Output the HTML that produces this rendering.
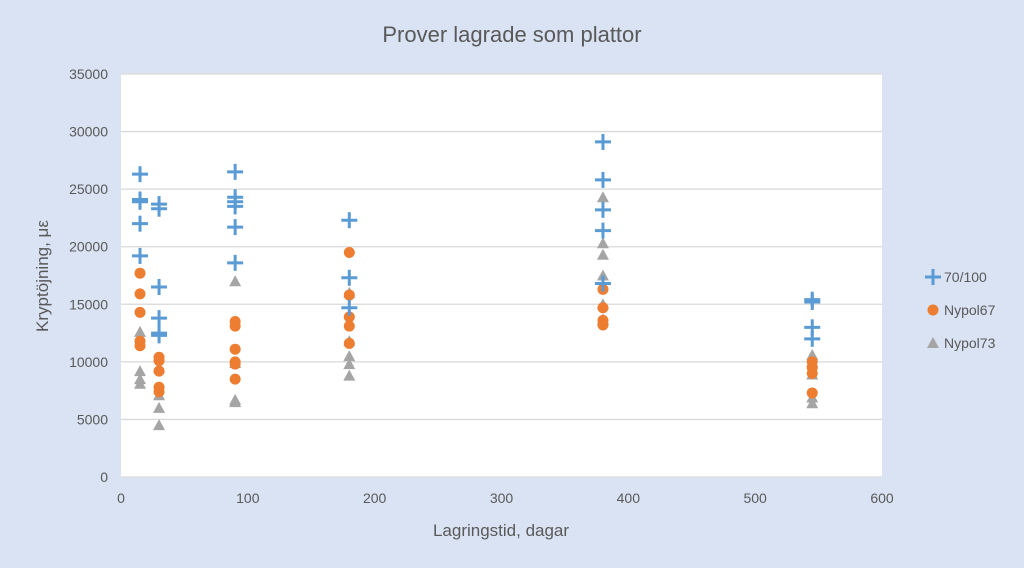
<!DOCTYPE html>
<html><head><meta charset="utf-8"><style>
body{margin:0;background:#dae3f3;}
svg{display:block;font-family:"Liberation Sans",sans-serif;}
</style></head><body>
<svg id="chart" width="1024" height="568">
<rect x="0" y="0" width="1024" height="568" fill="#dae3f3"/>
<rect x="121" y="74" width="761" height="403" fill="#ffffff"/>
<text x="512" y="42" text-anchor="middle" font-size="22" fill="#595959">Prover lagrade som plattor</text>
<text x="501" y="536" text-anchor="middle" font-size="17" fill="#595959">Lagringstid, dagar</text>
<text transform="translate(48,276) rotate(-90)" text-anchor="middle" font-size="17" fill="#595959">Kryptöjning, με</text>
<g id="grid"></g><g id="ticks"></g><g id="marks"></g><g id="legend"></g>
</svg>
<script>
const xTicks=[0,100,200,300,400,500,600];
const yTicks=[0,5000,10000,15000,20000,25000,30000,35000];
const seriesNames=["70/100","Nypol67","Nypol73"];
const s70x=[15,15,15,15,15,30,30,30,30,30,30,90,90,90,90,90,90,180,180,180,380,380,380,380,380,545,545,545,545];
const s70y=[26300,24100,23900,22000,19200,23700,23300,16500,13800,12500,12300,26500,24300,23900,23500,21700,18600,22300,17300,14700,29100,25800,23200,21400,16800,15400,15200,13000,12000];
const s67x=[15,15,15,15,15,30,30,30,30,30,90,90,90,90,90,90,180,180,180,180,180,380,380,380,380,545,545,545,545];
const s67y=[17700,15900,14300,11800,11400,10400,10100,9200,7800,7400,13500,13100,11100,10000,9800,8500,19500,15800,13900,13100,11600,16300,14700,13600,13200,10000,9500,9000,7300];
const s73x=[15,15,15,15,30,30,30,30,90,90,90,90,180,180,180,180,180,380,380,380,380,380,380,545,545,545,545,545];
const s73y=[12600,9200,8500,8100,9500,7100,6000,4500,17000,9900,6700,6500,16000,11800,10500,9800,8800,24300,20300,19300,17500,15000,13700,10600,10000,8900,6900,6400];
const NS="http://www.w3.org/2000/svg";
const X=v=>121+v/600*761, Y=v=>477-v/35000*403;
function mk(t,a,p){const e=document.createElementNS(NS,t);for(const k in a)e.setAttribute(k,a[k]);p.appendChild(e);return e;}
const grid=document.getElementById('grid'),ticks=document.getElementById('ticks'),marks=document.getElementById('marks'),leg=document.getElementById('legend');
yTicks.forEach(v=>{
 const l=mk('line',{x1:121,x2:882,y1:Y(v),y2:Y(v),stroke:'#d9d9d9','stroke-width':1.3},grid);
 
 
 const t=mk('text',{x:108,y:Y(v)+5,'text-anchor':'end','font-size':14,fill:'#595959'},ticks);t.textContent=v;
 
 
});
xTicks.forEach(v=>{
 const t=mk('text',{x:X(v),y:503,'text-anchor':'middle','font-size':14,fill:'#595959'},ticks);t.textContent=v;
 
 
});
function plus(x,y,p){const g=mk('g',{stroke:'#5b9bd5','stroke-width':3},p);mk('line',{x1:x-8,x2:x+8,y1:y,y2:y},g);mk('line',{x1:x,x2:x,y1:y-8,y2:y+8},g);return g;}
function dot(x,y,p){return mk('circle',{cx:x,cy:y,r:5.5,fill:'#ed7d31'},p);}
function tri(x,y,p){return mk('polygon',{points:`${x},${y-6} ${x+6},${y+5} ${x-6},${y+5}`,fill:'#a5a5a5'},p);}
s73x.forEach((d,i)=>{const e=tri(X(d),Y(s73y[i]),marks);
 
 });
s67x.forEach((d,i)=>{const e=dot(X(d),Y(s67y[i]),marks);
 
 });
s70x.forEach((d,i)=>{const e=plus(X(d),Y(s70y[i]),marks);
 
 });
const fns=[plus,dot,tri],ly=[277,310,343];
seriesNames.forEach((n,i)=>{
 const g=mk('g',{},leg);
 
 
 fns[i](933,ly[i],g);
 const t=mk('text',{x:944,y:ly[i]+5,'font-size':14,fill:'#595959'},g);t.textContent=n;
});
</script>
</body></html>
